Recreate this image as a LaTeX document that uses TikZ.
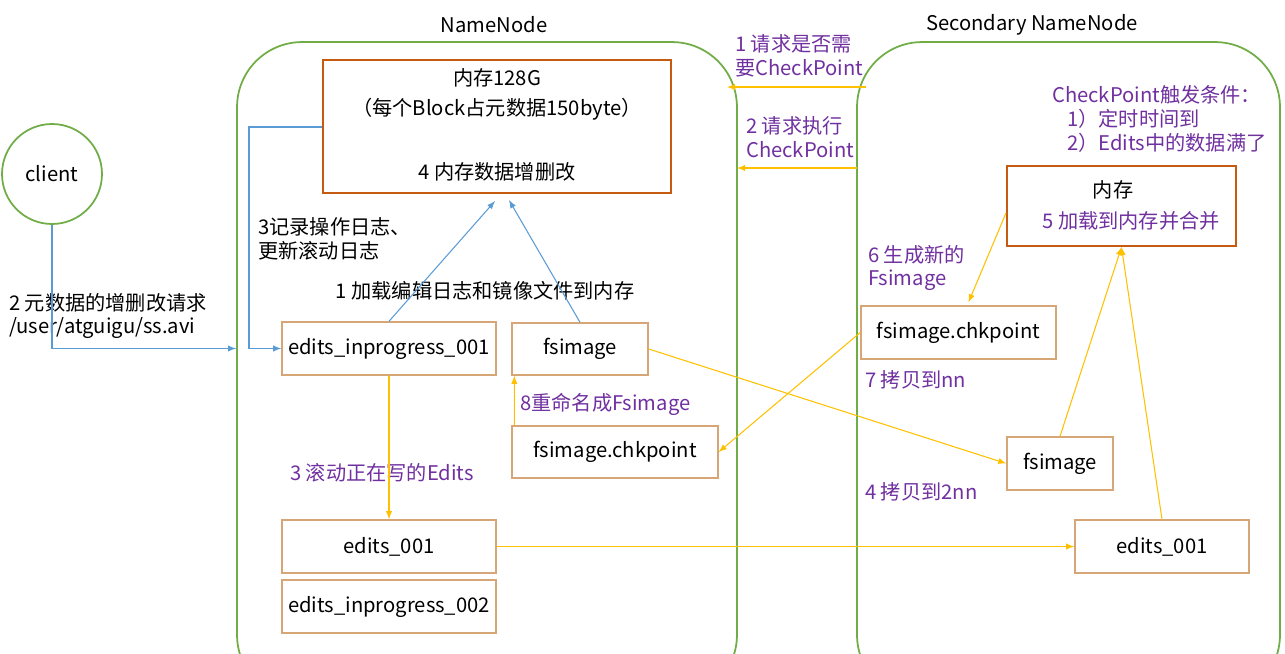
\documentclass[tikz,border=0pt]{standalone}
\usepackage{fontspec}
\setmainfont{Noto Sans CJK SC}
\usetikzlibrary{calc}
\definecolor{nnGreen}{HTML}{70AD47}
\definecolor{memOrange}{HTML}{C55A11}
\definecolor{boxTan}{HTML}{D6A676}
\definecolor{flowYellow}{HTML}{FFC000}
\definecolor{flowBlue}{HTML}{5B9BD5}
\definecolor{stepPurple}{HTML}{7030A0}
\tikzset{
  container/.style={draw=nnGreen, line width=1pt, rounded corners=1.3cm},
  membox/.style={draw=memOrange, line width=1.2pt},
  filebox/.style={draw=boxTan, line width=0.8pt},
  steptext/.style={text=stepPurple, align=left},
  note/.style={text=black, align=left},
  yarrow/.style={draw=flowYellow, line width=0.6pt, -latex},
  barrow/.style={draw=flowBlue, line width=0.6pt, -latex}
}
\begin{document}
\begin{tikzpicture}[x=0.02cm, y=-0.02cm, font=\fontsize{11.5}{13.5}\selectfont]
\useasboundingbox (0,0) rectangle (1285,653);
% the two servers
\node[container, minimum width=10cm, minimum height=13.16cm] (nn) at (487,371) {};
\node[container, minimum width=8.46cm, minimum height=13.16cm] (snn) at (1068.5,371) {};
\node (nntitle) at (494,25) {NameNode};
\node (snntitle) at (1032,25) {Secondary NameNode};
\node[draw=nnGreen, line width=1pt, circle, minimum size=2cm] (client) at (52,174) {client};
% NameNode side
\node[membox, minimum width=6.96cm, minimum height=2.66cm] (mem) at (497,126.5) {};
\node (memA) at (497,78) {内存128G};
\node (memB) at (497,109) {（每个Block占元数据150byte）};
\node (memC) at (497,172) {4 内存数据增删改};
\node[filebox, minimum width=4.28cm, minimum height=1.06cm] (eip1) at (389,348.5) {edits\_inprogress\_001};
\node[filebox, minimum width=2.72cm, minimum height=1.04cm] (fsnn) at (580,349) {fsimage\hspace{0.8cm}};
\node[filebox, minimum width=4.12cm, minimum height=1.04cm] (cknn) at (615,452) {fsimage.chkpoint\hspace{0.5cm}};
\node[filebox, minimum width=4.28cm, minimum height=1.06cm] (e001) at (389,546.5) {edits\_001\hspace{1.2cm}};
\node[filebox, minimum width=4.28cm, minimum height=1.06cm] (eip2) at (389,606.5) {edits\_inprogress\_002};
% Secondary NameNode side
\node[membox, minimum width=4.58cm, minimum height=1.6cm] (mem2) at (1121.5,206) {};
\node (mem2A) at (1113,190) {内存};
\node[steptext] (mem2B) at (1131,221) {5 加载到内存并合并};
\node[filebox, minimum width=3.9cm, minimum height=1.06cm] (cksnn) at (958.5,332.5) {fsimage.chkpoint\hspace{0.5cm}};
\node[filebox, minimum width=2.12cm, minimum height=1.06cm] (fssnn) at (1060,463.5) {fsimage};
\node[filebox, minimum width=3.48cm, minimum height=1.06cm] (esnn) at (1162,546.5) {edits\_001\hspace{0.6cm}};
% labels
\node[note, anchor=west] (reqlabel) at (3,316) {2 元数据的增删改请求\\/user/atguigu/ss.avi};
\node[note, anchor=west] (loglabel) at (252,239) {3记录操作日志、\\更新滚动日志};
\node[note] (loadlabel) at (485,291) {1 加载编辑日志和镜像文件到内存};
\node[steptext] (rolllabel) at (382,473) {3 滚动正在写的Edits};
\node[steptext, anchor=west] (renamelabel) at (514,404) {8重命名成Fsimage};
\node[steptext, anchor=west] (asklabel) at (729,56) {1 请求是否需\\要CheckPoint};
\node[steptext, anchor=west] (execlabel) at (740,137) {2 请求执行\\CheckPoint};
\node[steptext, anchor=west] (condlabel) at (1046,119) {CheckPoint触发条件：\\\hspace{0.3cm}1）定时时间到\\\hspace{0.3cm}2）Edits中的数据满了};
\node[steptext, anchor=west] (newlabel) at (862,268) {6 生成新的\\Fsimage};
\node[steptext, anchor=west] (copynn) at (859,380) {7 拷贝到nn};
\node[steptext, anchor=west] (copysnn) at (859,492) {4 拷贝到2nn};
% connectors
\coordinate (clientturn) at (client.south |- eip1.west);
\draw[barrow] (client.south) -- (clientturn) -- (clientturn -| nn.west);
\coordinate (logturn) at (249,127);
\draw[barrow] (logturn -| mem.west) -- (logturn) -- (logturn |- eip1.west) -- (eip1.west);
\draw[barrow] (eip1.north) -- ($(mem.south)+(-2,7)$);
\draw[barrow] (fsnn.north) -- ($(mem.south)+(12,6)$);
\draw[yarrow] (eip1.south) -- (e001.north);
\draw[yarrow] ($(cknn.north west)+(3,0)$) -- ($(fsnn.south west)+(3,0)$);
\draw[yarrow] (fsnn.east) -- (fssnn.west);
\draw[yarrow] (cksnn.west) -- (cknn.east);
\draw[yarrow] (e001.east) -- (esnn.west);
\draw[yarrow] (fssnn.north) -- (mem2.south);
\draw[yarrow] (esnn.north) -- (mem2.south);
\draw[yarrow] ($(mem2.west)+(0,7)$) -- ($(cksnn.north)+(10,-3)$);
\coordinate (askfrom) at (866,87);
\coordinate (askto) at (727,87);
\coordinate (execfrom) at (857,168);
\coordinate (execto) at (737,168);
\draw[yarrow] (askfrom) -- (askto);
\draw[yarrow] (execfrom) -- (execto);
\end{tikzpicture}
\end{document}
